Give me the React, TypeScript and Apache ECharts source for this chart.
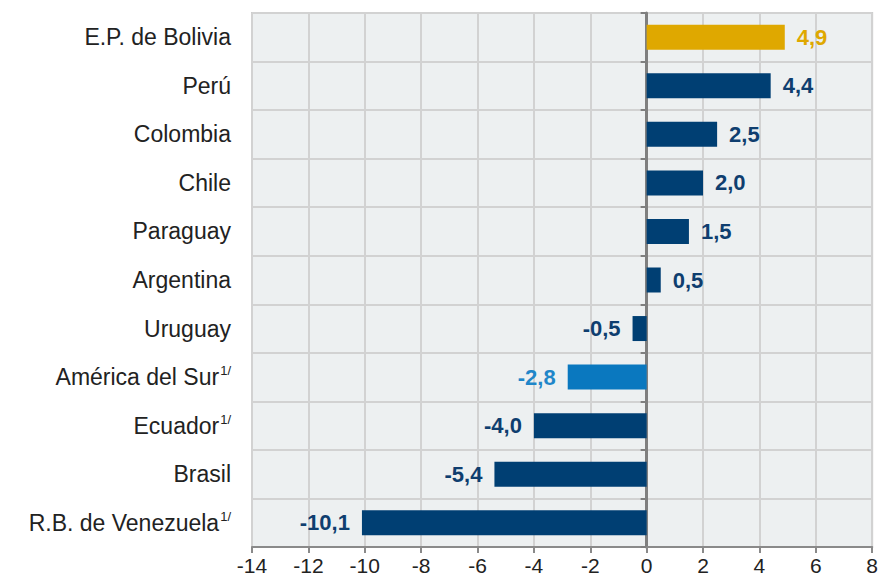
import React, { useEffect, useRef } from "react";
import * as echarts from "echarts";

const categories = [
  "E.P. de Bolivia",
  "Perú",
  "Colombia",
  "Chile",
  "Paraguay",
  "Argentina",
  "Uruguay",
  "América del Sur",
  "Ecuador",
  "Brasil",
  "R.B. de Venezuela",
];
const footnoted = ["América del Sur", "Ecuador", "R.B. de Venezuela"];
const values = [4.9, 4.4, 2.5, 2.0, 1.5, 0.5, -0.5, -2.8, -4.0, -5.4, -10.1];
const barColors: Record<string, string> = {
  "E.P. de Bolivia": "#dfa800",
  "América del Sur": "#0a78bf",
};
const labelColors: Record<string, string> = {
  "E.P. de Bolivia": "#dfa800",
  "América del Sur": "#1f86c9",
};
const defaultBar = "#003f73";
const defaultLabel = "#0f3e6f";

const FONT = "'Liberation Sans', Arial, sans-serif";

export default function App() {
  const ref = useRef<HTMLDivElement>(null);
  useEffect(() => {
    if (!ref.current) return;
    const chart = echarts.init(ref.current, null, { renderer: "svg" });
    const data = values.map((v, i) => {
      const c = categories[i];
      return {
        value: v,
        itemStyle: { color: barColors[c] || defaultBar },
        label: {
          show: true,
          position: v >= 0 ? "right" : "left",
          distance: 12,
          color: labelColors[c] || defaultLabel,
          fontFamily: FONT,
          fontSize: 22,
          fontWeight: "bold",
          formatter: (p: any) => Number(p.value).toFixed(1).replace(".", ","),
        },
      };
    });
    chart.setOption({
      animation: false,
      grid: {
        left: 252,
        right: 4,
        top: 13,
        bottom: 32,
        show: true,
        backgroundColor: "#edf0f1",
        borderColor: "#cccccc",
        borderWidth: 2,
      },
      xAxis: {
        type: "value",
        min: -14,
        max: 8,
        interval: 2,
        axisLine: { show: true, onZero: false, lineStyle: { color: "#8a8a8a", width: 2 } },
        axisTick: { show: true, length: 6, lineStyle: { color: "#8a8a8a", width: 2 } },
        axisLabel: {
          color: "#222222",
          fontFamily: FONT,
          fontSize: 21,
          margin: 8,
          formatter: (v: number) => String(v),
        },
        splitLine: { show: true, lineStyle: { color: "#d2d2d2", width: 2 } },
      },
      yAxis: [
        {
          type: "category",
          data: categories,
          inverse: true,
          position: "left",
          axisLine: { show: false, onZero: false },
          axisTick: { show: false },
          splitLine: { show: true, lineStyle: { color: "#d2d2d2", width: 2 } },
          axisLabel: {
            margin: 21,
            fontFamily: FONT,
            fontSize: 23,
            color: "#222222",
            formatter: (v: string) =>
              footnoted.includes(v) ? `{a|${v}}{s|1/}` : `{a|${v}}`,
            rich: {
              a: { fontFamily: FONT, fontSize: 23, color: "#222222", lineHeight: 26 },
              s: {
                fontFamily: FONT,
                fontSize: 13,
                color: "#222222",
                lineHeight: 26,
                verticalAlign: "top",
                padding: [0, 0, 10, 1],
              },
            },
          },
        },
        {
          type: "category",
          data: categories,
          inverse: true,
          position: "left",
          axisLine: { show: true, onZero: true, lineStyle: { color: "#7f7f7f", width: 3 } },
          axisTick: { show: true, length: 6, lineStyle: { color: "#7f7f7f", width: 2 } },
          axisLabel: { show: false },
          splitLine: { show: false },
        },
      ],
      series: [
        {
          type: "bar",
          xAxisIndex: 0,
          yAxisIndex: 0,
          data,
          barWidth: 25,
        },
      ],
    });
    return () => chart.dispose();
  }, []);
  return (
    <div
      ref={ref}
      style={{ position: "fixed", left: 0, top: 0, width: 881, height: 579, background: "#ffffff" }}
    />
  );
}
